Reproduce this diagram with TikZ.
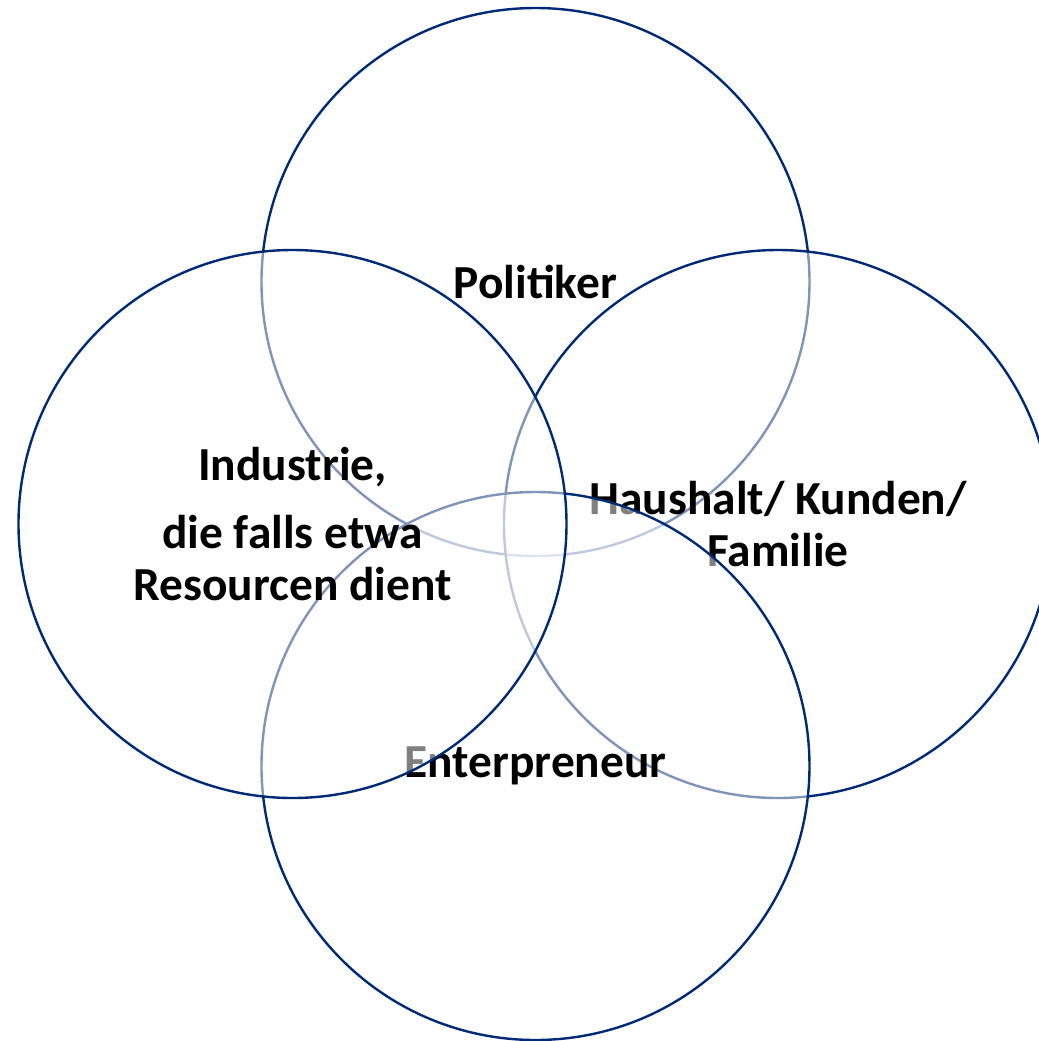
\documentclass[tikz,border=0pt]{standalone}
\usepackage{fontspec}
\setmainfont{Carlito}
\definecolor{ringblue}{RGB}{0,42,116}
\tikzset{ring/.style={circle,draw=ringblue,line width=1.2pt,fill=white,fill opacity=0.5,text opacity=1,
  minimum size=274pt,inner sep=0pt,align=center,font=\bfseries\fontsize{23.7}{26}\selectfont}}
\begin{document}
\begin{tikzpicture}[x=0.5pt,y=-0.5pt]
\useasboundingbox (0,0) rectangle (1039,1041);
\node[ring] (top) at (535.5,282) {Politiker};
\node[ring] (right) at (778,524) {Haushalt/ Kunden/\\Familie};
\node[ring] (bottom) at (535.5,766) {Enterpreneur};
\node[ring] (left) at (292.5,524) {Industrie,\\[8pt]die falls etwa\\Resourcen dient};
\end{tikzpicture}
\end{document}
